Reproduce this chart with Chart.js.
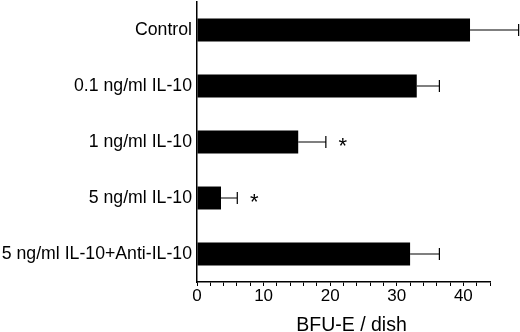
<!DOCTYPE html>
<html>
<head>
<meta charset="utf-8">
<script src="https://cdn.jsdelivr.net/npm/chart.js@4/dist/chart.umd.min.js"></script>
<style>
html,body{margin:0;padding:0;background:#fff;}
#wrap{width:520px;height:332px;position:relative;}
</style>
</head>
<body>
<div id="wrap"><canvas id="c" width="520" height="332"></canvas></div>
<script>
const categories = ['Control', '0.1 ng/ml IL-10', '1 ng/ml IL-10', '5 ng/ml IL-10', '5 ng/ml IL-10+Anti-IL-10'];
const means = [41.0, 33.0, 15.2, 3.6, 32.0];
const errors = [7.3, 3.4, 4.15, 2.45, 4.4];
const significant = [false, false, true, true, false];
const xTickLabels = [0, 10, 20, 30, 40];
const xMin = 0, xMax = 44, xStep = 2;
const xTitle = 'BFU-E / dish';

const FONT = "'Liberation Sans', Arial, Helvetica, sans-serif";

const errorBarPlugin = {
  id: 'errorBars',
  afterDatasetsDraw(chart) {
    const ctx = chart.ctx;
    const meta = chart.getDatasetMeta(0);
    const xs = chart.scales.x;
    ctx.save();
    ctx.strokeStyle = '#000';
    ctx.lineWidth = 1.2;
    meta.data.forEach((bar, i) => {
      const x0 = xs.getPixelForValue(means[i]);
      const x1 = xs.getPixelForValue(means[i] + errors[i]);
      const y = bar.y;
      ctx.beginPath();
      ctx.moveTo(x0, y);
      ctx.lineTo(x1, y);
      ctx.moveTo(x1, y - 6);
      ctx.lineTo(x1, y + 6);
      ctx.stroke();
      if (significant[i]) {
        ctx.fillStyle = '#000';
        ctx.font = '22px ' + FONT;
        ctx.textAlign = 'center';
        ctx.textBaseline = 'middle';
        ctx.fillText('*', x1 + 17, y + 5);
      }
    });
    ctx.restore();
  },
  afterDraw(chart) {
    const ctx = chart.ctx;
    const xs = chart.scales.x;
    ctx.save();
    ctx.fillStyle = '#000';
    ctx.font = '19.5px ' + FONT;
    ctx.textAlign = 'center';
    ctx.textBaseline = 'alphabetic';
    ctx.fillText(xTitle, (xs.left + xs.right) / 2 + 8, chart.height - 1);
    ctx.restore();
  }
};

new Chart(document.getElementById('c'), {
  type: 'bar',
  data: {
    labels: categories,
    datasets: [{
      data: means,
      backgroundColor: '#000',
      borderWidth: 0,
      categoryPercentage: 1,
      barPercentage: 0.41
    }]
  },
  options: {
    indexAxis: 'y',
    responsive: false,
    animation: false,
    events: [],
    layout: { padding: { top: 2, right: 30, left: 0, bottom: 0 } },
    plugins: { legend: { display: false }, tooltip: { enabled: false } },
    scales: {
      x: {
        type: 'linear',
        min: xMin, max: xMax,
        grid: { display: true, drawOnChartArea: false, drawTicks: true, tickLength: 4, color: '#000', lineWidth: 1 },
        border: { display: true, color: '#000', width: 1.5 },
        ticks: {
          stepSize: xStep,
          autoSkip: false,
          maxRotation: 0,
          color: '#000',
          padding: 0,
          font: { family: FONT, size: 17 },
          callback: (v) => xTickLabels.includes(v) ? String(v) : ''
        },
        title: { display: false },
        afterFit(scale) { scale.height = 50; scale.paddingLeft = 0; scale.paddingRight = 0; }
      },
      y: {
        grid: { display: false, drawTicks: false },
        border: { display: true, color: '#000', width: 1.5 },
        ticks: { color: '#000', padding: 5, font: { family: FONT, size: 17.7 } },
        afterFit(scale) { scale.width = 197; scale.paddingTop = 0; scale.paddingBottom = 0; }
      }
    }
  },
  plugins: [errorBarPlugin]
});
</script>
</body>
</html>
